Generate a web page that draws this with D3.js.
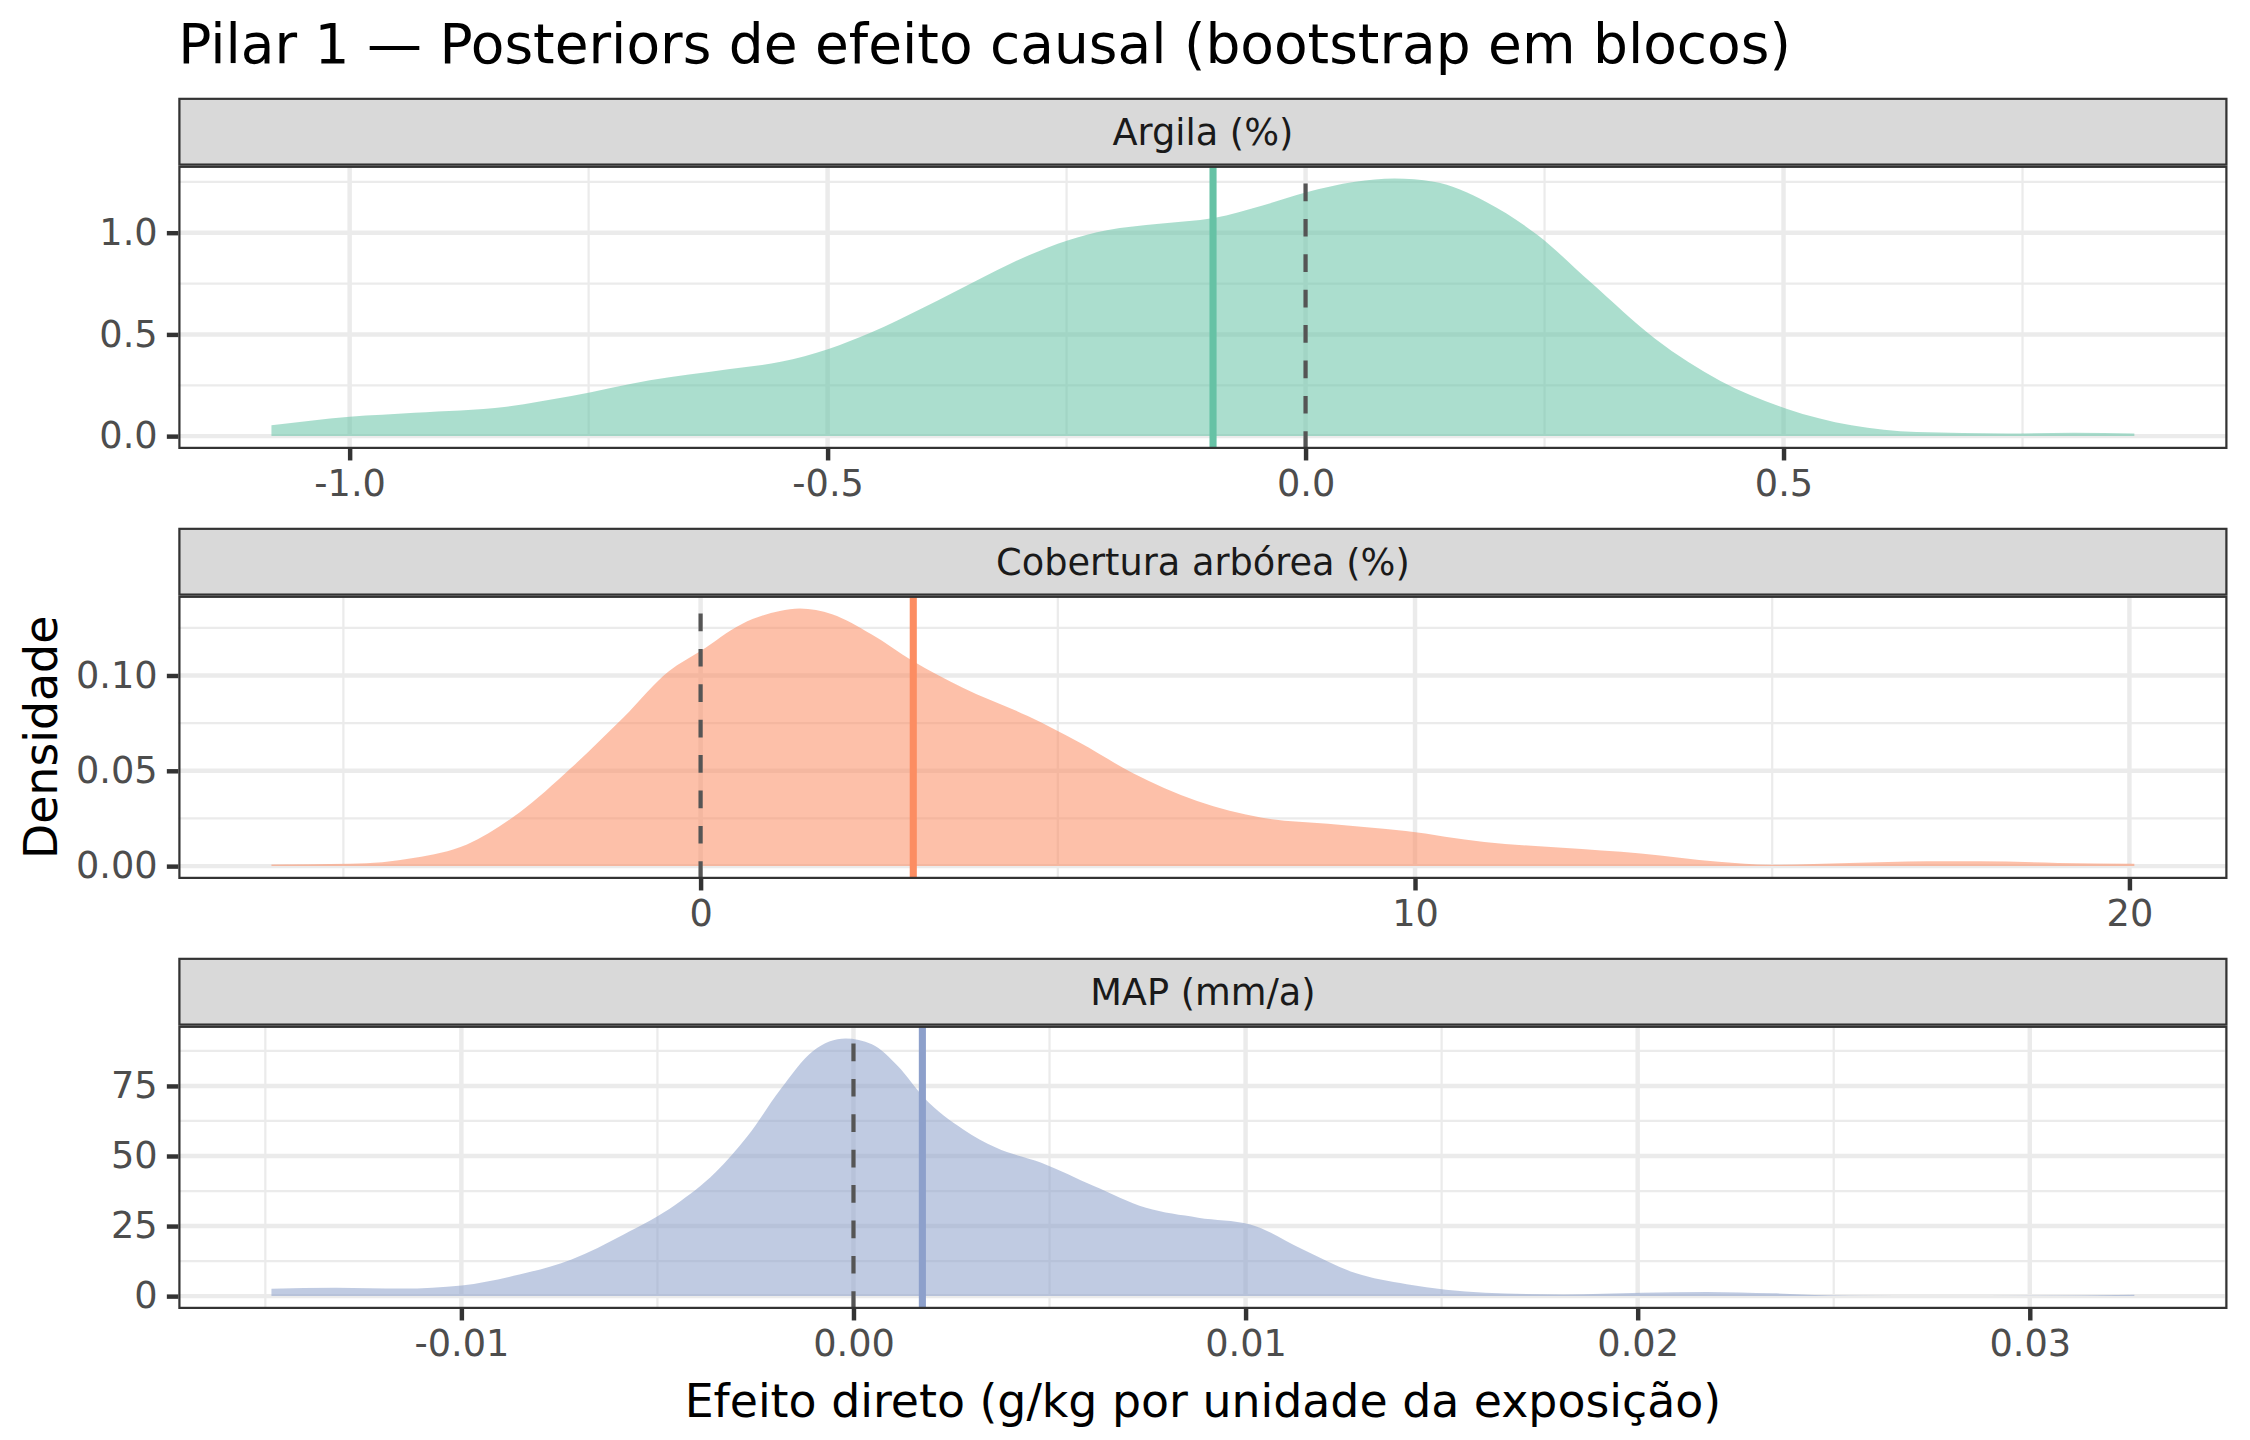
<!DOCTYPE html>
<html>
<head>
<meta charset="utf-8">
<script src="https://cdn.jsdelivr.net/npm/d3@7"></script>
<style>
  html, body { margin: 0; padding: 0; background: #ffffff; }
  svg { display: block; font-family: "DejaVu Sans", sans-serif; }
</style>
</head>
<body>
<div id="chart"></div>
<script>
// ---------------- DATA ----------------
const chartTitle = "Pilar 1 \u2014 Posteriors de efeito causal (bootstrap em blocos)";
const xAxisTitle = "Efeito direto (g/kg por unidade da exposição)";
const yAxisTitle = "Densidade";

const facetLabels = ["Argila (%)", "Cobertura arbórea (%)", "MAP (mm/a)"];
const facetColors = ["#66C2A5", "#FC8D62", "#8DA0CB"];
const referenceValue = 0;
const pointEstimates = [-0.0968, 2.977, 0.001757];

// Argila (%) density
const argilaX = [-1.0818, -1.0, -0.932, -0.836, -0.768, -0.686, -0.604, -0.549, -0.499, -0.454,
  -0.399, -0.344, -0.290, -0.249, -0.208, -0.153, -0.096, -0.044, 0.0, 0.052,
  0.093, 0.134, 0.189, 0.243, 0.298, 0.366, 0.434, 0.503, 0.571, 0.639, 0.735, 0.803, 0.867];
const argilaY = [0.053, 0.095, 0.115, 0.145, 0.197, 0.275, 0.329, 0.365, 0.428, 0.51,
  0.633, 0.765, 0.888, 0.962, 1.012, 1.044, 1.072, 1.135, 1.197, 1.25,
  1.266, 1.25, 1.151, 0.987, 0.757, 0.477, 0.271, 0.135, 0.053, 0.020, 0.013, 0.016, 0.013];

// Cobertura arbórea (%) density
const coberturaX = [-6.007, -4.91, -4.0, -3.27, -2.54, -1.81, -1.08, -0.44, 0.0, 0.566,
  1.11, 1.39, 1.84, 2.39, 2.97, 3.67, 4.58, 5.31, 6.04, 6.95,
  7.86, 8.78, 9.87, 10.97, 12.06, 13.16, 14.25, 14.98, 16.08, 17.17, 17.9, 19.0, 20.069];
const coberturaY = [0.0009, 0.0012, 0.0044, 0.0114, 0.028, 0.0516, 0.0779, 0.1023, 0.1128, 0.1268,
  0.1338, 0.1351, 0.1321, 0.1216, 0.1076, 0.0936, 0.0787, 0.0647, 0.049, 0.0341,
  0.0254, 0.0222, 0.0184, 0.0126, 0.0096, 0.0066, 0.0023, 0.0007, 0.0017, 0.0026, 0.0026, 0.0017, 0.0012];

// MAP (mm/a) density
const mapX = [-0.014844, -0.0132, -0.0115, -0.00999, -0.00852, -0.00719, -0.00586, -0.00453, -0.00353, -0.0027,
  -0.00186, -0.00103, -0.0002, 0.00047, 0.00113, 0.0018, 0.0028, 0.00363, 0.00479, 0.00613,
  0.00746, 0.00879, 0.01012, 0.01145, 0.01278, 0.01411, 0.01611, 0.01811, 0.02011, 0.02177,
  0.02344, 0.02543, 0.02776, 0.0301, 0.032667];
const mapY = [2.6, 3.0, 2.7, 3.8, 7.7, 13.1, 22.0, 32.7, 44.0, 57.1,
  73.8, 87.5, 91.9, 89.9, 82.1, 70.8, 59.5, 53.0, 47.6, 39.3,
  31.5, 28.0, 25.6, 16.7, 8.3, 4.2, 1.2, 0.6, 1.2, 1.5,
  1.0, 0.1, 0.0, 0.1, 0.5];

// Tick values and labels
const argilaXTicks = [-1.0, -0.5, 0.0, 0.5];
const argilaXLabels = ["-1.0", "-0.5", "0.0", "0.5"];
const argilaYTicks = [0, 0.5, 1.0];
const argilaYLabels = ["0.0", "0.5", "1.0"];

const coberturaXTicks = [0, 10, 20];
const coberturaXLabels = ["0", "10", "20"];
const coberturaYTicks = [0, 0.05, 0.10];
const coberturaYLabels = ["0.00", "0.05", "0.10"];

const mapXTicks = [-0.01, 0.0, 0.01, 0.02, 0.03];
const mapXLabels = ["-0.01", "0.00", "0.01", "0.02", "0.03"];
const mapYTicks = [0, 25, 50, 75];
const mapYLabels = ["0", "25", "50", "75"];

// ---------------- LAYOUT ----------------
const W = 2250, H = 1440;
const L = 178.3, R = 2227.5;
const stripTops = [97.7, 527.7, 957.7];
const stripH = 68;
const panelH = 283.3;
const lineW = 4.45;      // 0.5 mm at 300 dpi
const tickLen = 11.46;
const tickPad = 9.2;
const tickFont = 36.7;
const titleFont = 55;
const axisTitleFont = 45.8;

const facets = [
  { label: facetLabels[0], xs: argilaX, ys: argilaY, color: facetColors[0], est: pointEstimates[0],
    xt: argilaXTicks, xl: argilaXLabels, yt: argilaYTicks, yl: argilaYLabels },
  { label: facetLabels[1], xs: coberturaX, ys: coberturaY, color: facetColors[1], est: pointEstimates[1],
    xt: coberturaXTicks, xl: coberturaXLabels, yt: coberturaYTicks, yl: coberturaYLabels },
  { label: facetLabels[2], xs: mapX, ys: mapY, color: facetColors[2], est: pointEstimates[2],
    xt: mapXTicks, xl: mapXLabels, yt: mapYTicks, yl: mapYLabels }
];

const svg = d3.select("#chart").append("svg")
  .attr("width", W).attr("height", H)
  .attr("viewBox", `0 0 ${W} ${H}`);

svg.append("rect").attr("width", W).attr("height", H).attr("fill", "#ffffff");

function minorTicks(major, domain) {
  const step = major[1] - major[0];
  const out = [];
  const first = major[0] - step / 2;
  for (let v = first; v <= domain[1] + 1e-12; v += step) {
    if (v >= domain[0] - 1e-12) out.push(v);
  }
  return out;
}

facets.forEach((f, i) => {
  const sTop = stripTops[i];
  const pTop = sTop + stripH;
  const pBot = pTop + panelH;

  const ext = d3.extent(f.xs);
  const pad = (ext[1] - ext[0]) * 0.05;
  const x = d3.scaleLinear().domain([ext[0] - pad, ext[1] + pad]).range([L, R]);
  const ymax = d3.max(f.ys);
  const y = d3.scaleLinear().domain([-0.05 * ymax, 1.05 * ymax]).range([pBot, pTop]);

  const clipId = "clip" + i;
  svg.append("clipPath").attr("id", clipId)
    .append("rect").attr("x", L).attr("y", pTop).attr("width", R - L).attr("height", panelH);

  const g = svg.append("g");
  const pg = g.append("g").attr("clip-path", `url(#${clipId})`);

  pg.append("rect").attr("x", L).attr("y", pTop).attr("width", R - L).attr("height", panelH)
    .attr("fill", "#ffffff");

  // minor grid
  const xMinor = minorTicks(f.xt, x.domain());
  const yMinor = minorTicks(f.yt, y.domain());
  pg.selectAll(".xminor").data(xMinor).enter().append("line")
    .attr("x1", d => x(d)).attr("x2", d => x(d)).attr("y1", pTop).attr("y2", pBot)
    .attr("stroke", "#EBEBEB").attr("stroke-width", lineW / 2);
  pg.selectAll(".yminor").data(yMinor).enter().append("line")
    .attr("x1", L).attr("x2", R).attr("y1", d => y(d)).attr("y2", d => y(d))
    .attr("stroke", "#EBEBEB").attr("stroke-width", lineW / 2);
  // major grid
  pg.selectAll(".xmajor").data(f.xt).enter().append("line")
    .attr("x1", d => x(d)).attr("x2", d => x(d)).attr("y1", pTop).attr("y2", pBot)
    .attr("stroke", "#EBEBEB").attr("stroke-width", lineW);
  pg.selectAll(".ymajor").data(f.yt).enter().append("line")
    .attr("x1", L).attr("x2", R).attr("y1", d => y(d)).attr("y2", d => y(d))
    .attr("stroke", "#EBEBEB").attr("stroke-width", lineW);

  // density area
  const pts = f.xs.map((v, k) => [v, f.ys[k]]);
  const area = d3.area()
    .x(d => x(d[0])).y0(y(0)).y1(d => y(d[1]))
    .curve(d3.curveMonotoneX);
  pg.append("path").datum(pts).attr("d", area)
    .attr("fill", f.color).attr("fill-opacity", 0.55).attr("stroke", "none");

  // reference (zero) dashed line
  pg.append("line")
    .attr("x1", x(referenceValue)).attr("x2", x(referenceValue))
    .attr("y1", pBot).attr("y2", pTop)
    .attr("stroke", "#555555").attr("stroke-width", 4.2)
    .attr("stroke-dasharray", "17.7,17.7");

  // point estimate line
  pg.append("line")
    .attr("x1", x(f.est)).attr("x2", x(f.est))
    .attr("y1", pTop).attr("y2", pBot)
    .attr("stroke", f.color).attr("stroke-width", 7.1);

  // panel border (clipped: inner half visible)
  pg.append("rect").attr("x", L).attr("y", pTop).attr("width", R - L).attr("height", panelH)
    .attr("fill", "none").attr("stroke", "#333333").attr("stroke-width", lineW);

  // strip
  const sclip = "sclip" + i;
  svg.append("clipPath").attr("id", sclip)
    .append("rect").attr("x", L).attr("y", sTop).attr("width", R - L).attr("height", stripH);
  const sg = g.append("g").attr("clip-path", `url(#${sclip})`);
  sg.append("rect").attr("x", L).attr("y", sTop).attr("width", R - L).attr("height", stripH)
    .attr("fill", "#D9D9D9").attr("stroke", "#333333").attr("stroke-width", lineW);
  g.append("text")
    .attr("x", (L + R) / 2).attr("y", sTop + stripH / 2 + 0.36 * tickFont)
    .attr("text-anchor", "middle").attr("font-size", tickFont).attr("fill", "#1A1A1A")
    .text(f.label);

  // axes
  const xAxis = d3.axisBottom(x).tickValues(f.xt).tickFormat((d, k) => f.xl[k])
    .tickSize(tickLen).tickPadding(tickPad);
  const xg = g.append("g").attr("transform", `translate(0,${pBot})`).call(xAxis);
  xg.select(".domain").remove();
  xg.selectAll(".tick line").attr("stroke", "#333333").attr("stroke-width", lineW);
  xg.selectAll(".tick text").attr("fill", "#4D4D4D").attr("font-size", tickFont)
    .attr("font-family", "DejaVu Sans, sans-serif");

  const yAxis = d3.axisLeft(y).tickValues(f.yt).tickFormat((d, k) => f.yl[k])
    .tickSize(tickLen).tickPadding(tickPad);
  const yg = g.append("g").attr("transform", `translate(${L},0)`).call(yAxis);
  yg.select(".domain").remove();
  yg.selectAll(".tick line").attr("stroke", "#333333").attr("stroke-width", lineW);
  yg.selectAll(".tick text").attr("fill", "#4D4D4D").attr("font-size", tickFont)
    .attr("font-family", "DejaVu Sans, sans-serif");
});

// titles
svg.append("text").attr("x", L).attr("y", 63.3)
  .attr("font-size", titleFont).attr("fill", "#000000")
  .text(chartTitle);

svg.append("text").attr("x", (L + R) / 2).attr("y", 1416.5)
  .attr("text-anchor", "middle").attr("font-size", axisTitleFont).attr("fill", "#000000")
  .text(xAxisTitle);

const panelMid = (stripTops[0] + stripH + stripTops[2] + stripH + panelH) / 2;
svg.append("text")
  .attr("transform", `translate(57,${panelMid}) rotate(-90)`)
  .attr("text-anchor", "middle").attr("font-size", axisTitleFont).attr("fill", "#000000")
  .text(yAxisTitle);
</script>
</body>
</html>
